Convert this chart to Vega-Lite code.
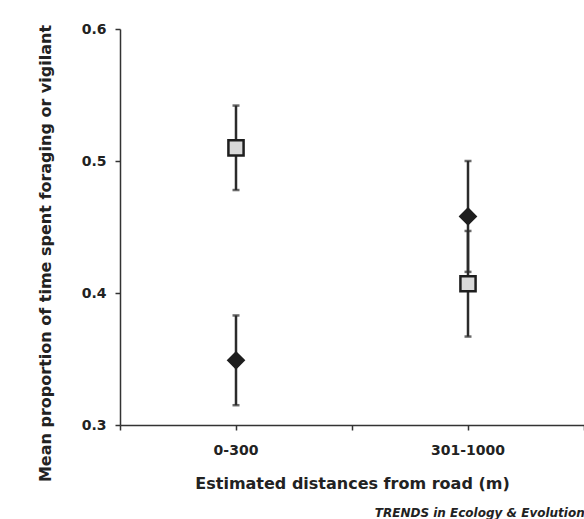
{
  "$schema": "https://vega.github.io/schema/vega-lite/v6.json",
  "width": 464,
  "height": 396,
  "autosize": {"type": "none"},
  "padding": {"left": 120, "top": 29, "right": 0, "bottom": 94},
  "background": "#ffffff",
  "title": {
    "text": "TRENDS in Ecology & Evolution",
    "orient": "bottom",
    "anchor": "end",
    "font": "DejaVu Sans",
    "fontSize": 12,
    "fontStyle": "italic",
    "fontWeight": "bold",
    "color": "#222222",
    "offset": 17
  },
  "data": {
    "values": [
      {"distance": "0-300", "behaviour": "vigilant", "mean": 0.510, "lower": 0.478, "upper": 0.542},
      {"distance": "0-300", "behaviour": "foraging", "mean": 0.349, "lower": 0.315, "upper": 0.383},
      {"distance": "301-1000", "behaviour": "foraging", "mean": 0.458, "lower": 0.416, "upper": 0.500},
      {"distance": "301-1000", "behaviour": "vigilant", "mean": 0.407, "lower": 0.367, "upper": 0.447}
    ]
  },
  "config": {
    "view": {"stroke": null},
    "axis": {
      "domainColor": "#333333",
      "domainWidth": 1.5,
      "tickColor": "#333333",
      "tickWidth": 1.5,
      "tickSize": 5,
      "grid": false,
      "labelFont": "DejaVu Sans",
      "labelFontSize": 14,
      "labelFontWeight": "bold",
      "labelColor": "#222222",
      "titleFont": "DejaVu Sans",
      "titleFontSize": 16,
      "titleFontWeight": "bold",
      "titleColor": "#222222"
    }
  },
  "layer": [
    {
      "mark": {"type": "rule", "color": "#2b2b2b", "strokeWidth": 2.5},
      "encoding": {
        "x": {
          "field": "distance",
          "type": "nominal",
          "sort": ["0-300", "301-1000"],
          "scale": {"type": "band", "paddingInner": 0, "paddingOuter": 0},
          "axis": {"orient": "bottom", "tickBand": "extent", "labels": false, "title": null}
        },
        "y": {
          "field": "lower",
          "type": "quantitative",
          "scale": {"domain": [0.3, 0.6], "nice": false, "zero": false},
          "axis": {
            "values": [0.3, 0.4, 0.5, 0.6],
            "format": ".1f",
            "labelPadding": 9,
            "title": "Mean proportion of time spent foraging or vigilant",
            "titlePadding": 28,
            "titleY": 224
          }
        },
        "y2": {"field": "upper"}
      }
    },
    {
      "mark": {"type": "tick", "color": "#2b2b2b", "thickness": 2.5, "size": 7, "orient": "horizontal"},
      "encoding": {
        "x": {
          "field": "distance",
          "type": "nominal",
          "sort": ["0-300", "301-1000"],
          "axis": {
            "orient": "bottom",
            "tickBand": "center",
            "domain": false,
            "labelAngle": 0,
            "labelPadding": 13,
            "title": "Estimated distances from road (m)",
            "titlePadding": 18
          }
        },
        "y": {"field": "lower", "type": "quantitative"}
      }
    },
    {
      "mark": {"type": "tick", "color": "#2b2b2b", "thickness": 2.5, "size": 7, "orient": "horizontal"},
      "encoding": {
        "x": {"field": "distance", "type": "nominal", "sort": ["0-300", "301-1000"], "axis": null},
        "y": {"field": "upper", "type": "quantitative"}
      }
    },
    {
      "mark": {"type": "point", "filled": false, "opacity": 1, "strokeWidth": 2.5, "size": 230},
      "encoding": {
        "x": {"field": "distance", "type": "nominal", "sort": ["0-300", "301-1000"], "axis": null},
        "y": {"field": "mean", "type": "quantitative"},
        "shape": {
          "field": "behaviour",
          "type": "nominal",
          "scale": {"domain": ["foraging", "vigilant"], "range": ["diamond", "square"]},
          "legend": null
        },
        "fill": {
          "field": "behaviour",
          "type": "nominal",
          "scale": {"domain": ["foraging", "vigilant"], "range": ["#1e1e1e", "#d9d9d9"]},
          "legend": null
        },
        "stroke": {"value": "#1e1e1e"}
      }
    }
  ],
  "resolve": {"axis": {"x": "independent"}}
}
